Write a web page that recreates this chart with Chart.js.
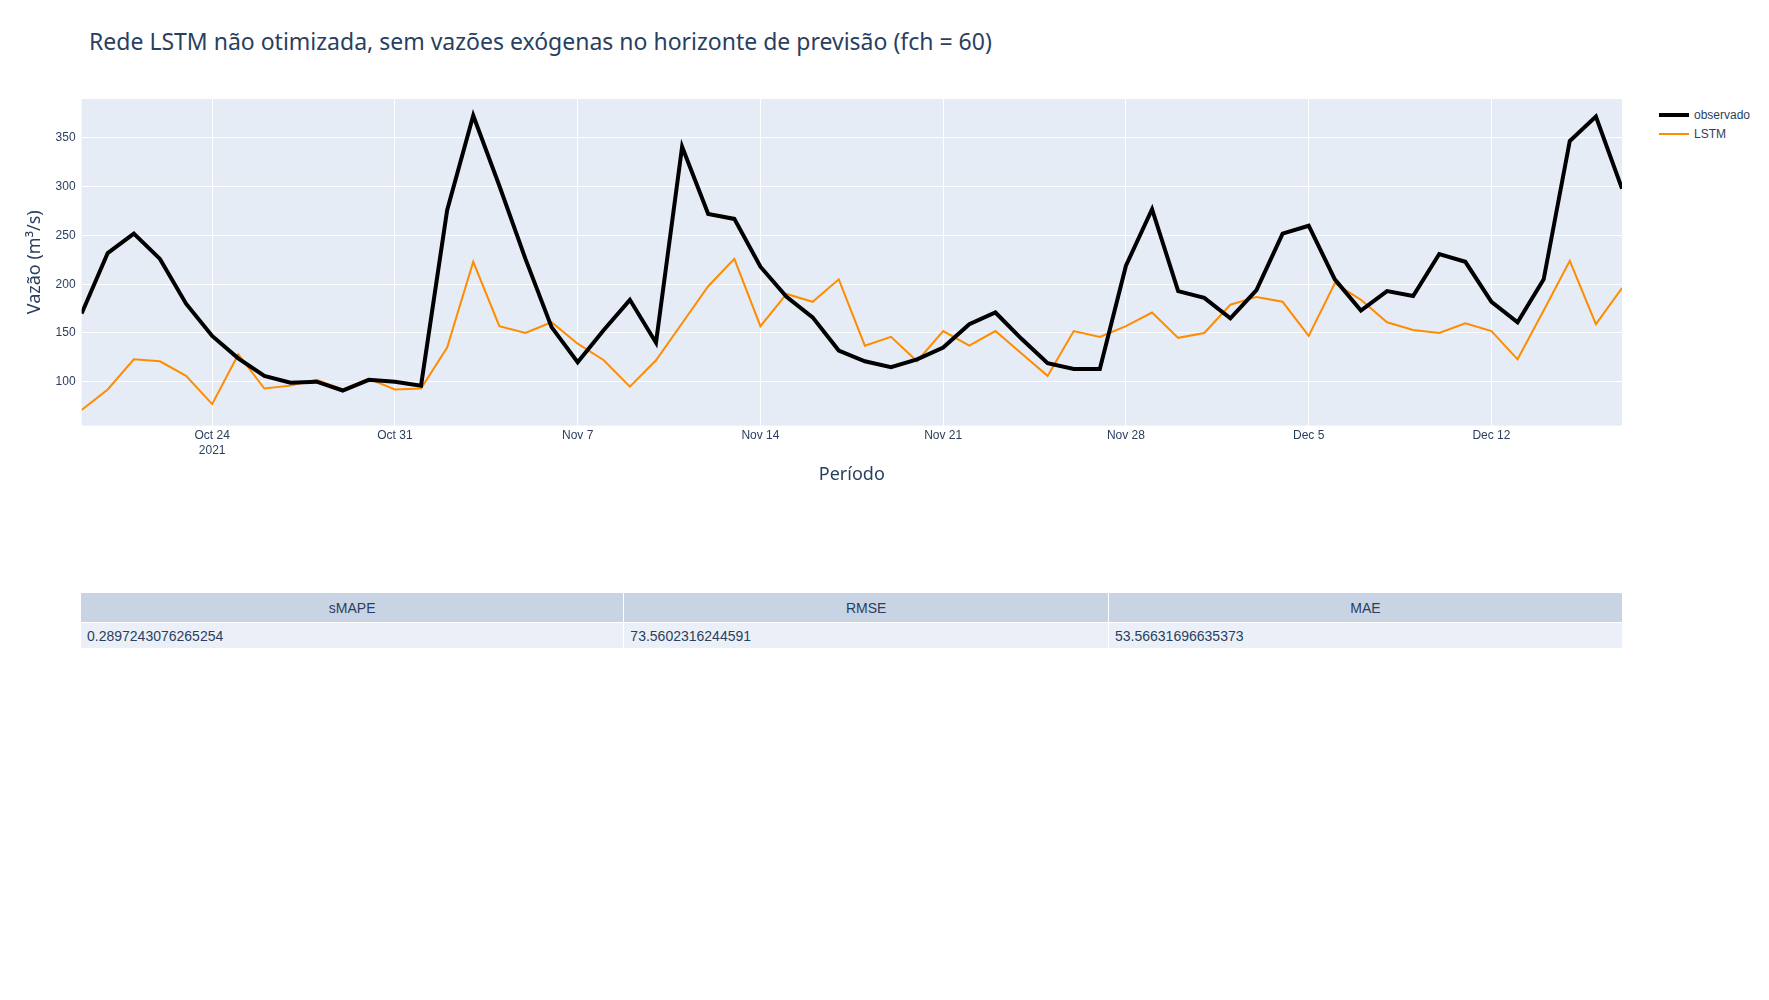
<!DOCTYPE html>
<html>
<head>
<meta charset="utf-8">
<script src="https://cdn.jsdelivr.net/npm/chart.js@4"></script>
<style>
  body { margin: 0; background: #fff; font-family: "Liberation Sans", Arial, sans-serif; }
  #title { position: absolute; left: 89px; top: 25px; font: 23px "Noto Sans", sans-serif; color: #2a3f5f; }
  #wrap { position: absolute; left: 0; top: 70px; width: 1642px; height: 420px; }
  #legend { position: absolute; left: 1659px; top: 105px; font-size: 12px; color: #2a3f5f; }
  #legend div { display: flex; align-items: center; height: 19px; }
  #legend span.l { display: inline-block; width: 30px; margin-right: 5px; }
  table { position: absolute; left: 80px; top: 592px; width: 1543px; border-collapse: collapse; font-size: 14px; color: #2a3f5f; }
  th { background: #C8D4E3; font-weight: normal; height: 27px; border: 1px solid #fff; }
  td { background: #EBF0F8; height: 23px; padding-left: 6px; border: 1px solid #fff; }
</style>
</head>
<body>
<div id="title">Rede LSTM não otimizada, sem vazões exógenas no horizonte de previsão (fch = 60)</div>
<div id="wrap"><canvas id="c"></canvas></div>
<div id="legend">
  <div><span class="l" style="border-top:4px solid #000"></span>observado</div>
  <div><span class="l" style="border-top:2px solid #FF8C00"></span>LSTM</div>
</div>
<table>
  <tr><th>sMAPE</th><th>RMSE</th><th>MAE</th></tr>
  <tr><td>0.2897243076265254</td><td>73.5602316244591</td><td>53.56631696635373</td></tr>
</table>
<script>
const startDate = new Date(2021, 9, 19);
const observado = [170, 232, 252, 226, 180, 147, 124, 106, 99, 100, 91, 102, 100, 96, 276, 373, 301, 226, 156, 120,
  153, 184, 140, 341, 272, 267, 218, 187, 166, 132, 121, 115, 123, 135, 159, 171, 144, 119, 113, 113,
  219, 277, 193, 186, 165, 194, 252, 260, 205, 173, 193, 188, 231, 223, 182, 161, 205, 347, 372, 298];
const lstm = [71, 92, 123, 121, 106, 77, 128, 93, 96, 102, 92, 103, 92, 93, 135, 223, 157, 150, 161, 139,
  122, 95, 122, 160, 198, 226, 157, 190, 182, 205, 137, 146, 121, 152, 137, 152, 129, 106, 152, 146,
  157, 171, 145, 150, 179, 187, 182, 147, 201, 184, 161, 153, 150, 160, 152, 123, 173, 224, 159, 196];
const xTicks = [5, 12, 19, 26, 33, 40, 47, 54];
const yTicks = [100, 150, 200, 250, 300, 350];
const months = ["Jan","Feb","Mar","Apr","May","Jun","Jul","Aug","Sep","Oct","Nov","Dec"];

function dayLabel(i) {
  const d = new Date(startDate.getTime());
  d.setDate(d.getDate() + i);
  const s = months[d.getMonth()] + " " + d.getDate();
  return i === xTicks[0] ? [s, "2021"] : s;
}

const bg = {
  id: "bg",
  beforeDraw(chart) {
    const a = chart.chartArea, ctx = chart.ctx;
    ctx.save();
    ctx.fillStyle = "#E5ECF6";
    ctx.fillRect(a.left, a.top, a.right - a.left, a.bottom - a.top);
    ctx.restore();
  }
};

const pts = arr => arr.map((v, i) => ({ x: i, y: v }));

new Chart(document.getElementById("c"), {
  type: "line",
  data: {
    datasets: [
      { label: "observado", data: pts(observado), borderColor: "#000", borderWidth: 4, pointRadius: 0, tension: 0 },
      { label: "LSTM", data: pts(lstm), borderColor: "#FF8C00", borderWidth: 2, pointRadius: 0, tension: 0 }
    ]
  },
  options: {
    responsive: true, maintainAspectRatio: false, animation: false,
    layout: { padding: { top: 29, right: 20, left: 20 } },
    plugins: { legend: { display: false }, tooltip: { enabled: false } },
    scales: {
      x: {
        type: "linear", min: 0, max: 59,
        afterBuildTicks: ax => { ax.ticks = xTicks.map(v => ({ value: v })); },
        ticks: { callback: v => dayLabel(v), color: "#2a3f5f", font: { size: 12 }, maxRotation: 0, autoSkip: false },
        grid: { color: "#fff", lineWidth: 1, drawTicks: false },
        border: { display: false },
        title: { display: true, text: "Período", color: "#2a3f5f", font: { size: 18, family: "Noto Sans" } }
      },
      y: {
        min: 55, max: 390,
        afterBuildTicks: ax => { ax.ticks = yTicks.map(v => ({ value: v })); },
        ticks: { color: "#2a3f5f", font: { size: 12 }, padding: 6 },
        grid: { color: "#fff", lineWidth: 1, drawTicks: false },
        border: { display: false },
        title: { display: true, text: "Vazão (m³/s)", color: "#2a3f5f", font: { size: 18, family: "Noto Sans" } }
      }
    }
  },
  plugins: [bg]
});
</script>
</body>
</html>
